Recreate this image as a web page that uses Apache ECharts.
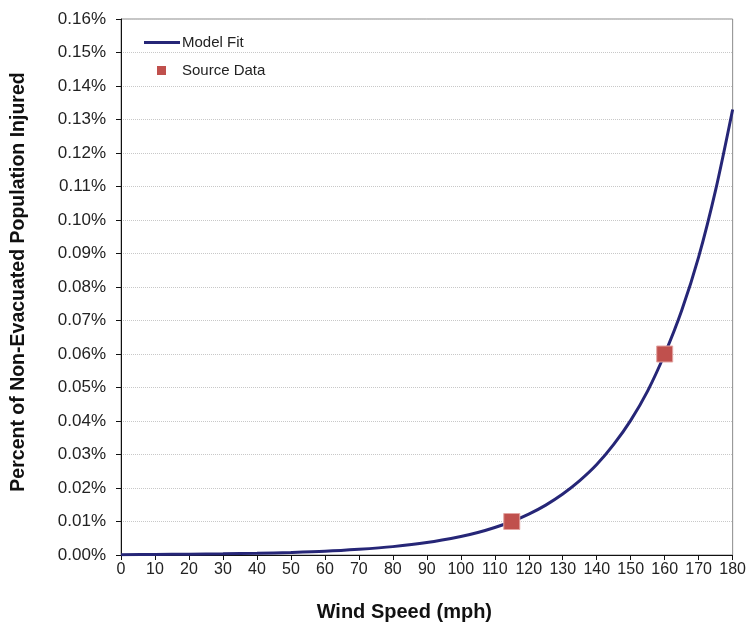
<!DOCTYPE html>
<html><head><meta charset="utf-8">
<script src="https://cdn.jsdelivr.net/npm/echarts@6/dist/echarts.min.js"></script>
<style>html,body{margin:0;padding:0;background:#fff}#c{width:749px;height:629px}</style>
</head><body><div id="c"></div>
<script>
// Model Fit curve (percent)
const fitSpeeds = [0,10,20,30,40,50,60,70,80,90,100,105,110,115,120,125,130,135,140,145,150,155,160,165,170,175,180];
const fitValues = [0.0001,0.00015,0.00023,0.00034,0.0005,0.00075,0.0011,0.0017,0.0025,0.0037,0.0055,0.0067,0.0082,0.0100,0.0122,0.0149,0.0182,0.0222,0.0270,0.0330,0.0402,0.0490,0.0600,0.0730,0.0890,0.1090,0.1330];
// Source data points
const srcSpeeds = [115,160];
const srcValues = [0.01,0.06];
const xTicks = {min:0,max:180,interval:10};
const yTicks = {min:0,max:0.16,interval:0.01};

const FONT = '"Liberation Sans", Arial, sans-serif';
const chart = echarts.init(document.getElementById('c'), null, {renderer:'canvas'});
chart.setOption({
  animation:false,
  backgroundColor:'#fff',
  grid:{left:121,right:14,top:19,bottom:74,show:true,borderColor:'#8c8c8c',borderWidth:1,containLabel:false},
  legend:[
    {left:139,top:30,orient:'vertical',itemWidth:36,itemHeight:3,
     data:[{name:'Model Fit',icon:'rect'}],
     textStyle:{fontFamily:FONT,fontSize:15,color:'#222',padding:[0,0,0,-3]}},
    {left:152,top:58,orient:'vertical',itemWidth:9,itemHeight:9,
     data:[{name:'Source Data',icon:'rect',itemStyle:{color:'#c0504d',borderWidth:0}}],
     textStyle:{fontFamily:FONT,fontSize:15,color:'#222',padding:[0,0,0,11]}}
  ],
  xAxis:{type:'value',min:xTicks.min,max:xTicks.max,interval:xTicks.interval,
    name:'Wind Speed (mph)',nameLocation:'middle',nameGap:47,
    nameTextStyle:{fontFamily:FONT,fontSize:20,fontWeight:'bold',color:'#111',padding:[0,45,0,0]},
    axisLine:{lineStyle:{color:'#111',width:1}},
    axisTick:{show:true,length:5,lineStyle:{color:'#111'}},
    axisLabel:{fontFamily:FONT,fontSize:16,color:'#222',margin:7},
    splitLine:{show:false}},
  yAxis:{type:'value',min:yTicks.min,max:yTicks.max,interval:yTicks.interval,
    name:'Percent of Non-Evacuated Population Injured',nameLocation:'middle',nameGap:92,
    nameTextStyle:{fontFamily:FONT,fontSize:19.5,fontWeight:'bold',color:'#111',padding:[0,0,0,10]},
    axisLine:{show:true,lineStyle:{color:'#111',width:1}},
    axisTick:{show:true,length:5,lineStyle:{color:'#111'}},
    axisLabel:{fontFamily:FONT,fontSize:17,color:'#222',margin:15,
      formatter:v=>v.toFixed(2)+'%'},
    splitLine:{show:true,lineStyle:{color:'#c8c8c8',type:'dotted',width:1}}},
  series:[
    {name:'Model Fit',type:'line',smooth:0.3,showSymbol:false,symbol:'none',
     data:fitSpeeds.map((s,i)=>[s,fitValues[i]]),
     lineStyle:{color:'#262677',width:3},itemStyle:{color:'#262677'},z:2},
    {name:'Source Data',type:'scatter',symbol:'rect',symbolSize:16,
     data:srcSpeeds.map((s,i)=>[s,srcValues[i]]),
     itemStyle:{color:'#c0504d',opacity:1,borderColor:'#e3a4a2',borderWidth:1},z:3}
  ]
});
</script></body></html>
